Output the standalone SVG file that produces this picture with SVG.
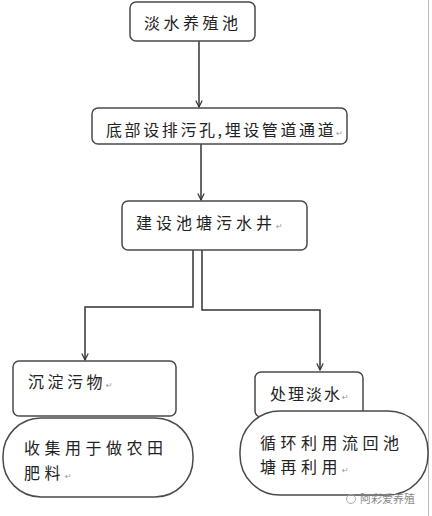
<svg xmlns="http://www.w3.org/2000/svg" width="432" height="516" viewBox="0 0 432 516">
<style>
.box{fill:#fff;stroke:#4a4a4a;stroke-width:1.5}
.t{font-family:"Noto Sans CJK SC","Liberation Sans",sans-serif;font-size:16px;fill:#222;letter-spacing:3.5px}
.rt{font-family:"DejaVu Sans",sans-serif;font-size:8px;fill:#999;letter-spacing:0}
.ln{fill:none;stroke:#333;stroke-width:1.5}
</style>
<defs>
<marker id="ah" viewBox="0 0 10 10" refX="9" refY="5" markerWidth="8" markerHeight="8" orient="auto" markerUnits="userSpaceOnUse">
<path d="M1,1 L9,5 L1,9" fill="none" stroke="#333" stroke-width="1.5"/>
</marker>
</defs>
<rect x="0" y="0" width="432" height="516" fill="#fff"/>
<line x1="428.5" y1="0" x2="428.5" y2="516" stroke="#bbb" stroke-width="1"/>
<g id="connectors">
<path class="ln" d="M199,41 V107" marker-end="url(#ah)"/>
<path class="ln" d="M201,144 V200" marker-end="url(#ah)"/>
<path class="ln" d="M193,250 V307 H85 V360" marker-end="url(#ah)"/>
<path class="ln" d="M202,250 V310 H320 V370" marker-end="url(#ah)"/>
</g>
<g id="n1">
<rect class="box" x="130" y="2" width="125" height="39" rx="6"/>
<text class="t" x="144" y="29">淡水养殖池</text>
</g>
<g id="n2">
<rect class="box" x="92" y="108" width="255" height="36" rx="6"/>
<text class="t" x="106" y="136" style="letter-spacing:2.6px">底部设排污孔,埋设管道通道<tspan class="rt">↵</tspan></text>
</g>
<g id="n3">
<rect class="box" x="122" y="201" width="185" height="49" rx="6"/>
<text class="t" x="136" y="229" style="letter-spacing:4px">建设池塘污水井<tspan class="rt">↵</tspan></text>
</g>
<g id="n4">
<rect class="box" x="13" y="361" width="163" height="55" rx="6"/>
<text class="t" x="28" y="388">沉淀污物<tspan class="rt">↵</tspan></text>
</g>
<g id="n5">
<rect class="box" x="3" y="418" width="190" height="79" rx="38"/>
<text class="t" x="24" y="454" style="letter-spacing:4.5px">收集用于做农田</text>
<text class="t" x="24" y="479" style="letter-spacing:4.5px">肥料<tspan class="rt">↵</tspan></text>
</g>
<g id="n6">
<rect class="box" x="255" y="372" width="108" height="45" rx="6"/>
<text class="t" x="270" y="400" style="letter-spacing:2px">处理淡水<tspan class="rt">↵</tspan></text>
</g>
<g id="n7">
<rect class="box" x="240" y="411" width="188" height="84" rx="40"/>
<text class="t" x="260" y="449" style="letter-spacing:4.5px">循环利用流回池</text>
<text class="t" x="260" y="473" style="letter-spacing:4.5px">塘再利用<tspan class="rt">↵</tspan></text>
</g>
<g id="watermark">
<circle cx="351" cy="499" r="4.5" fill="none" stroke="#aaa" stroke-width="1"/>
<text x="360" y="503" font-family="'Noto Sans CJK SC',sans-serif" font-size="11" fill="#888">阿彩爱养殖</text>
</g>
</svg>
